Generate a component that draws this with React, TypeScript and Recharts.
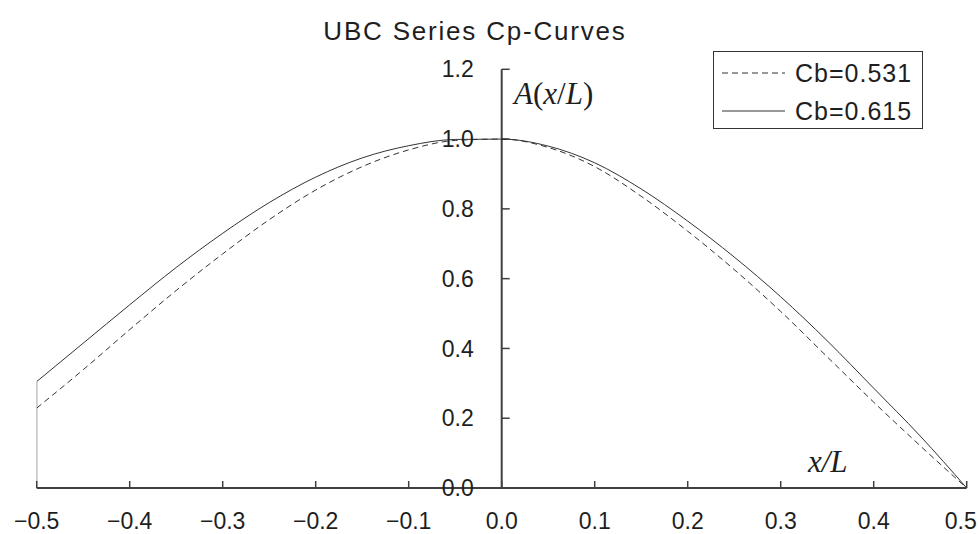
import React from 'react';
import { LineChart, Line, XAxis, YAxis, ReferenceLine, Legend } from 'recharts';

// x/L stations
const xStations = [-0.5, -0.45, -0.4, -0.35, -0.3, -0.25, -0.2, -0.15, -0.1, -0.05, 0, 0.05, 0.1, 0.15, 0.2, 0.25, 0.3, 0.35, 0.4, 0.45, 0.5];
// Cb = 0.531 (dashed)
const cb531 = [0.229, 0.339, 0.454, 0.566, 0.671, 0.769, 0.854, 0.921, 0.969, 0.996, 1.0, 0.976, 0.921, 0.836, 0.736, 0.626, 0.506, 0.376, 0.246, 0.121, 0.0];
// Cb = 0.615 (solid)
const cb615 = [0.305, 0.415, 0.525, 0.632, 0.73, 0.818, 0.891, 0.946, 0.981, 0.999, 1.0, 0.98, 0.932, 0.857, 0.765, 0.662, 0.548, 0.422, 0.286, 0.149, 0.0];
// vertical closing edge of the Cb=0.615 curve at x/L = -0.5
const edgeX = [-0.5, -0.5];
const edgeY = [0.0, 0.305];

const xTicks = [-0.5, -0.4, -0.3, -0.2, -0.1, 0, 0.1, 0.2, 0.3, 0.4, 0.5];
const yTicks = [0, 0.2, 0.4, 0.6, 0.8, 1.0, 1.2];

const seriesNames = ['Cb=0.531', 'Cb=0.615'];
const titleText = 'UBC Series Cp-Curves';

const data = xStations.map((x, i) => ({ x, cb531: cb531[i], cb615: cb615[i] }));
const edgeData = edgeX.map((x, i) => ({ x, edge: edgeY[i] }));

const FONT = '"Liberation Sans", Arial, sans-serif';
const SERIF = '"Liberation Serif", "Times New Roman", serif';
const INK = '#1e1e1e';
const AXIS = '#404040';

const fmt = (v: number) => (v < 0 ? '\u2212' : '') + Math.abs(v).toFixed(1);

const XTick = (props: any) => {
  const { x, y, payload } = props;
  const isLast = payload.value === xTicks[xTicks.length - 1];
  return (
    <g>
      <line x1={x} x2={x} y1={y} y2={y - 7} stroke={AXIS} strokeWidth={1.5} />
      <text
        x={isLast ? x + 10 : x}
        y={y + 33}
        textAnchor={isLast ? 'end' : 'middle'}
        dominantBaseline="central"
        fontSize={23}
        fontFamily={FONT}
        fill={INK}
      >
        {fmt(payload.value)}
      </text>
    </g>
  );
};

const LegendBox = (props: any) => {
  const payload = (props.payload || []).filter((p: any) => p.type !== 'none');
  return (
    <svg width={210} height={78} style={{ display: 'block' }}>
      <rect x={0.5} y={0.5} width={209} height={77} fill="#fff" stroke="#333" strokeWidth={1} />
      {payload.map((p: any, i: number) => {
        const cy = 22 + i * 38;
        const dash = p.payload && p.payload.strokeDasharray;
        return (
          <g key={i}>
            <line x1={9} x2={72} y1={cy} y2={cy} stroke="#333" strokeWidth={1} strokeDasharray={dash} />
            <text x={82} y={cy} dominantBaseline="central" fontSize={25} letterSpacing={1} fontFamily={FONT} fill={INK}>
              {p.value}
            </text>
          </g>
        );
      })}
    </svg>
  );
};

export default function App() {
  return (
    <div style={{ position: 'absolute', left: 0, top: 0, width: 978, height: 534, background: '#fff' }}>
      <LineChart
        width={978}
        height={534}
        data={data}
        margin={{ top: 69.3, right: 11.3, left: 36.7, bottom: 0 }}
      >
        <XAxis
          dataKey="x"
          type="number"
          domain={[-0.5, 0.5]}
          ticks={xTicks}
          height={46}
          tickSize={0}
          tickMargin={0}
          tickLine={false}
          axisLine={{ stroke: AXIS, strokeWidth: 2 }}
          tick={<XTick />}
          allowDataOverflow
        />
        <YAxis hide type="number" domain={[0, 1.2]} ticks={yTicks} allowDataOverflow />
        <ReferenceLine
          segment={[{ x: 0, y: 0 }, { x: 0, y: 1.2 }]}
          stroke={AXIS}
          strokeWidth={2}
          ifOverflow="visible"
        />
        {yTicks.map((t) => (
          <ReferenceLine
            key={t}
            segment={[{ x: 0, y: t }, { x: 0.0086, y: t }]}
            stroke={AXIS}
            strokeWidth={1.5}
            ifOverflow="visible"
            label={{ value: t.toFixed(1), position: 'left', offset: 28, fontSize: 23, fill: INK, fontFamily: FONT }}
          />
        ))}
        <Line
          name={seriesNames[0]}
          dataKey="cb531"
          type="monotone"
          stroke="#333"
          strokeWidth={1}
          strokeDasharray="6 4"
          dot={false}
          activeDot={false}
          isAnimationActive={false}
        />
        <Line
          name={seriesNames[1]}
          dataKey="cb615"
          type="monotone"
          stroke="#333"
          strokeWidth={1}
          dot={false}
          activeDot={false}
          isAnimationActive={false}
        />
        <Line
          data={edgeData}
          dataKey="edge"
          type="linear"
          stroke="#333"
          strokeWidth={1}
          dot={false}
          activeDot={false}
          legendType="none"
          isAnimationActive={false}
        />
        <Legend
          layout="vertical"
          align="center"
          verticalAlign="middle"
          content={<LegendBox />}
          wrapperStyle={{ left: 713, top: 51, right: 'auto', bottom: 'auto', width: 210, height: 78 }}
        />
      </LineChart>
      <svg width={978} height={534} style={{ position: 'absolute', left: 0, top: 0, pointerEvents: 'none' }}>
        <text x={475} y={31} textAnchor="middle" dominantBaseline="central" fontSize={26} letterSpacing={1.8} fontFamily={FONT} fill={INK}>
          {titleText}
        </text>
        <text x={514} y={93} dominantBaseline="central" fontSize={31} fontFamily={SERIF} fill={INK}>
          <tspan fontStyle="italic">A</tspan>(<tspan fontStyle="italic">x</tspan>/<tspan fontStyle="italic">L</tspan>)
        </text>
        <text x={808} y={461} dominantBaseline="central" fontSize={31} fontStyle="italic" fontFamily={SERIF} fill={INK}>
          x/L
        </text>
      </svg>
    </div>
  );
}
